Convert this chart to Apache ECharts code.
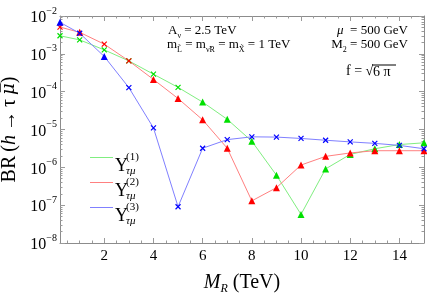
<!DOCTYPE html>
<html><head><meta charset="utf-8">
<script src="https://cdn.jsdelivr.net/npm/echarts@6/dist/echarts.min.js"></script>
<style>html,body{margin:0;padding:0;background:#fff}#c{width:427px;height:294px}</style>
</head><body><div id="c"></div>
<script>
// ---- data ----
const mR = [0.2, 1, 2, 3, 4, 5, 6, 7, 8, 9, 10, 11, 12, 13, 14, 15];
const brY1 = [3.0e-3, 2.34e-3, 1.27e-3, 6.5e-4, 2.9e-4, 1.3e-4, 5.3e-5, 1.86e-5, 4.9e-6, 6.2e-7, 5.7e-8, 9.1e-7, 2.2e-6, 3.1e-6, 4.0e-6, 4.45e-6];
const brY2 = [5.1e-3, 3.7e-3, 1.8e-3, 6.5e-4, 2.1e-4, 6.6e-5, 1.8e-5, 3.2e-6, 1.3e-7, 2.9e-7, 1.15e-6, 1.95e-6, 2.4e-6, 2.75e-6, 2.75e-6, 2.75e-6];
const brY3 = [6.8e-3, 3.5e-3, 8.5e-4, 1.28e-4, 1.1e-5, 9.1e-8, 3.2e-6, 5.4e-6, 6.4e-6, 6.3e-6, 5.8e-6, 5.2e-6, 4.7e-6, 4.3e-6, 3.8e-6, 3.1e-6];
const xTickLabels = [2, 4, 6, 8, 10, 12, 14];
const yTickExponents = [-8, -7, -6, -5, -4, -3, -2];
const seriesNames = ['Y1', 'Y2', 'Y3'];
const legendSup = ['(1)', '(2)', '(3)'];

// marker shapes per point (x = cross, t = triangle)
const marks1 = ['x','x','x','x','x','x','t','t','t','t','t','t','t','t','t','t'];
const marks2 = ['x','t','x','x','t','t','t','t','t','t','t','t','t','t','t','t'];
const marks3 = ['t','x','t','x','x','x','x','x','x','x','x','x','x','x','x','x'];

const FONT = '"Liberation Serif", "DejaVu Serif", serif';
const CROSS = 'path://M0,0L10,10M10,0L0,10';
const frameColor = '#8c8c8c';
const tickColor = '#9a9a9a';
const markColors = ['#00e000', '#ff0000', '#0000ff'];
const lineColors = ['#80ee80', '#ff8080', '#8080ff'];

const yMajor = yTickExponents.map(e => Math.pow(10, e));
const yMinor = [];
for (let e = -8; e < -2; e++) for (let k = 2; k <= 9; k++) yMinor.push(k * Math.pow(10, e));
const xMinor = [];
for (let v = 0.5; v < 15; v += 0.5) xMinor.push(v);

function makeSeries(name, ys, marks, markColor, lineColor) {
  return {
    name: name, type: 'line', showAllSymbol: true, z: 3,
    lineStyle: { color: lineColor, width: 1 },
    itemStyle: { color: markColor },
    data: mR.map((x, i) => {
      const isT = marks[i] === 't';
      return {
        value: [x, ys[i]],
        symbol: isT ? 'triangle' : CROSS,
        symbolSize: isT ? 7 : 5,
        itemStyle: isT ? { color: markColor, borderWidth: 0 }
                       : { color: 'none', borderColor: markColor, borderWidth: 1.2 }
      };
    })
  };
}

const baseX = { type: 'value', min: 0.2, max: 15, splitLine: { show: false } };
const baseY = { type: 'log', logBase: 10, min: 1e-8, max: 1e-2, splitLine: { show: false } };

// legend rows (line centre y)
const legendRowY = [163, 188, 213];

const option = {
  animation: false,
  backgroundColor: '#fff',
  grid: { left: 60, right: 3, top: 16, bottom: 51, containLabel: false, outerBoundsMode: 'none' },
  xAxis: [
    Object.assign({}, baseX, {
      position: 'bottom',
      axisLine: { show: true, lineStyle: { color: frameColor, width: 1 } },
      axisTick: { show: true, inside: true, length: 5, customValues: xTickLabels, lineStyle: { color: tickColor } },
      axisLabel: { show: true, customValues: xTickLabels, margin: 6, color: '#000', fontFamily: FONT, fontSize: 15 },
      name: '{i|M}{s|R}{n| (TeV)}',
      nameLocation: 'middle', nameGap: 28,
      nameTextStyle: {
        color: '#000', fontFamily: FONT,
        rich: {
          i: { fontFamily: FONT, fontSize: 20, fontStyle: 'italic', color: '#000', lineHeight: 24, verticalAlign: 'middle' },
          s: { fontFamily: FONT, fontSize: 12, fontStyle: 'italic', color: '#000', lineHeight: 12, verticalAlign: 'bottom' },
          n: { fontFamily: FONT, fontSize: 20, color: '#000', lineHeight: 24, verticalAlign: 'middle' }
        }
      }
    }),
    Object.assign({}, baseX, {
      position: 'bottom',
      axisLine: { show: false },
      axisTick: { show: true, inside: true, length: 2.5, customValues: xMinor, lineStyle: { color: tickColor } },
      axisLabel: { show: false }
    }),
    Object.assign({}, baseX, {
      position: 'top',
      axisLine: { show: true, lineStyle: { color: frameColor, width: 1 } },
      axisTick: { show: true, inside: true, length: 5, customValues: xTickLabels, lineStyle: { color: tickColor } },
      axisLabel: { show: false }
    }),
    Object.assign({}, baseX, {
      position: 'top',
      axisLine: { show: false },
      axisTick: { show: true, inside: true, length: 2.5, customValues: xMinor, lineStyle: { color: tickColor } },
      axisLabel: { show: false }
    })
  ],
  yAxis: [
    Object.assign({}, baseY, {
      position: 'left',
      axisLine: { show: true, lineStyle: { color: frameColor, width: 1 } },
      axisTick: { show: true, inside: true, length: 5, customValues: yMajor, lineStyle: { color: tickColor } },
      axisLabel: {
        show: true, customValues: yMajor, margin: 3,
        formatter: v => '{b|10}{s|' + String(Math.round(Math.log10(v))).replace('-', '\u2212') + '}',
        rich: {
          b: { fontFamily: FONT, fontSize: 16, color: '#000', lineHeight: 20, verticalAlign: 'bottom' },
          s: { fontFamily: FONT, fontSize: 10, color: '#000', lineHeight: 20, verticalAlign: 'top' }
        }
      },
      name: '{n|BR\u2009(}{i|h}{n|\u2009\u2192\u2009\u03c4\u2009}{m|\u03bc\u0305}{n|)}',
      nameLocation: 'middle', nameGap: 29,
      nameTextStyle: {
        color: '#000',
        rich: {
          n: { fontFamily: FONT, fontSize: 20, color: '#000', lineHeight: 24 },
          i: { fontFamily: FONT, fontSize: 20, fontStyle: 'italic', color: '#000', lineHeight: 24 },
          m: { fontFamily: '"DejaVu Serif", serif', fontSize: 18, fontStyle: 'italic', color: '#000', lineHeight: 24 }
        }
      }
    }),
    Object.assign({}, baseY, {
      position: 'left',
      axisLine: { show: false },
      axisTick: { show: true, inside: true, length: 2.5, customValues: yMinor, lineStyle: { color: tickColor } },
      axisLabel: { show: false }
    }),
    Object.assign({}, baseY, {
      position: 'right',
      axisLine: { show: true, lineStyle: { color: frameColor, width: 1 } },
      axisTick: { show: true, inside: true, length: 5, customValues: yMajor, lineStyle: { color: tickColor } },
      axisLabel: { show: false }
    }),
    Object.assign({}, baseY, {
      position: 'right',
      axisLine: { show: false },
      axisTick: { show: true, inside: true, length: 2.5, customValues: yMinor, lineStyle: { color: tickColor } },
      axisLabel: { show: false }
    })
  ],
  legend: seriesNames.map((nm, i) => ({
    orient: 'vertical', left: 90, top: legendRowY[i] - 6, padding: 0,
    itemWidth: 23, itemHeight: 12, itemGap: 0,
    icon: 'path://M0,0H23V1H0Z',
    formatter: () => '',
    textStyle: { fontSize: 10, lineHeight: 12, padding: 0 },
    selectedMode: false,
    data: [{ name: nm, itemStyle: { color: lineColors[i] } }]
  })),
  series: [
    makeSeries(seriesNames[0], brY1, marks1, markColors[0], lineColors[0]),
    makeSeries(seriesNames[1], brY2, marks2, markColors[1], lineColors[1]),
    makeSeries(seriesNames[2], brY3, marks3, markColors[2], lineColors[2])
  ],
  graphic: []
};

// legend labels (Y with super/subscripts)
legendRowY.forEach((ly, i) => {
  const cy = ly + 3;
  option.graphic.push({ type: 'text', z: 10, style: { x: 115, y: cy, text: 'Y', font: '18px ' + FONT, fill: '#000', verticalAlign: 'middle', align: 'left' } });
  option.graphic.push({ type: 'text', z: 10, style: { x: 126, y: cy - 9, text: legendSup[i], font: '11px ' + FONT, fill: '#000', verticalAlign: 'middle', align: 'left' } });
  option.graphic.push({ type: 'text', z: 10, style: { x: 126, y: cy + 5, text: '\u03c4\u03bc', font: 'italic 11px ' + FONT, fill: '#000', verticalAlign: 'middle', align: 'left' } });
});

// annotations
const ann = {
  n: { fontFamily: FONT, fontSize: 13, color: '#000', lineHeight: 18, verticalAlign: 'middle' },
  s: { fontFamily: FONT, fontSize: 8, color: '#000', lineHeight: 9, verticalAlign: 'bottom' },
  g: { fontFamily: FONT, fontSize: 13, fontStyle: 'italic', color: '#000', lineHeight: 18, verticalAlign: 'middle' }
};
option.graphic.push({ type: 'text', left: 168, top: 24, style: { text: '{n|A}{s|\u03bd}{n| = 2.5 TeV}', rich: ann } });
option.graphic.push({ type: 'text', left: 167, top: 38, style: { text: '{n|m}{s|L\u0303}{n| = m}{s|\u03bd\u0303R}{n| = m}{s|X\u0303}{n| = 1 TeV}', rich: ann } });
option.graphic.push({ type: 'text', right: 19, top: 24, style: { text: '{g|\u03bc}{n|  = 500 GeV}', rich: ann } });
option.graphic.push({ type: 'text', right: 19, top: 38, style: { text: '{n|M}{s|2}{n| = 500 GeV}', rich: ann } });
option.graphic.push({ type: 'text', left: 346, top: 64, style: { text: 'f = \u221a', font: '14px ' + FONT, fill: '#000' } });
option.graphic.push({ type: 'text', left: 373, top: 65, style: { text: '6 \u03c0', font: '14px ' + FONT, fill: '#000' } });
option.graphic.push({ type: 'line', shape: { x1: 372, y1: 65, x2: 396, y2: 65 }, style: { stroke: '#000', lineWidth: 1 } });

const chart = echarts.init(document.getElementById('c'), null, { renderer: 'canvas' });
chart.setOption(option);
</script>
</body></html>
